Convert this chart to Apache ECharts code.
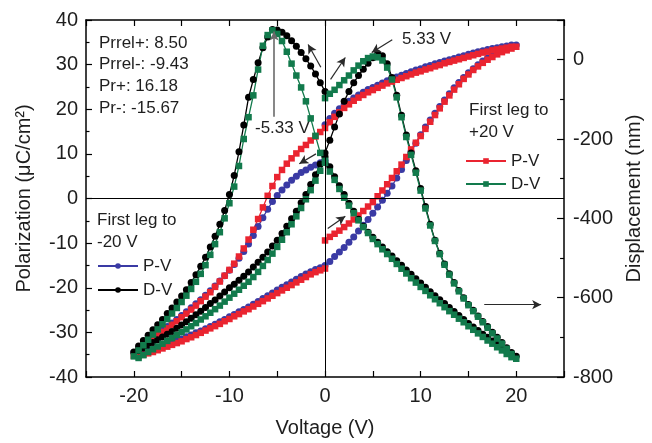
<!DOCTYPE html>
<html>
<head>
<meta charset="utf-8">
<script src="https://cdn.jsdelivr.net/npm/echarts/dist/echarts.min.js"></script>
<style>
  html, body { margin: 0; background: #fff; }
  #chart { width: 652px; height: 443px; }
</style>
</head>
<body>
<div id="chart"></div>
<script>
// voltage sweeps: first leg to +20 V (red, green) and first leg to -20 V (blue, black)
const sweepPos = [
  0,0.5,1,1.5,2,2.5,3,3.5,4,4.5,5,5.5,6,6.5,7,7.5,8,8.5,9,9.5,10,10.5,11,11.5,12,12.5,13,13.5,14,14.5,15,15.5,16,16.5,17,17.5,18,18.5,19,19.5,20,
  19.5,19,18.5,18,17.5,17,16.5,16,15.5,15,14.5,14,13.5,13,12.5,12,11.5,11,10.5,10,9.5,9,8.5,8,7.5,7,6.5,6,5.5,5,4.5,4,3.5,3,2.5,2,1.5,1,0.5,0,
  -0.5,-1,-1.5,-2,-2.5,-3,-3.5,-4,-4.5,-5,-5.5,-6,-6.5,-7,-7.5,-8,-8.5,-9,-9.5,-10,-10.5,-11,-11.5,-12,-12.5,-13,-13.5,-14,-14.5,-15,-15.5,-16,-16.5,-17,-17.5,-18,-18.5,-19,-19.5,-20,
  -19.5,-19,-18.5,-18,-17.5,-17,-16.5,-16,-15.5,-15,-14.5,-14,-13.5,-13,-12.5,-12,-11.5,-11,-10.5,-10,-9.5,-9,-8.5,-8,-7.5,-7,-6.5,-6,-5.5,-5,-4.5,-4,-3.5,-3,-2.5,-2,-1.5,-1,-0.5,0
];
const sweepNeg = [
  0,-0.5,-1,-1.5,-2,-2.5,-3,-3.5,-4,-4.5,-5,-5.5,-6,-6.5,-7,-7.5,-8,-8.5,-9,-9.5,-10,-10.5,-11,-11.5,-12,-12.5,-13,-13.5,-14,-14.5,-15,-15.5,-16,-16.5,-17,-17.5,-18,-18.5,-19,-19.5,-20,
  -19.5,-19,-18.5,-18,-17.5,-17,-16.5,-16,-15.5,-15,-14.5,-14,-13.5,-13,-12.5,-12,-11.5,-11,-10.5,-10,-9.5,-9,-8.5,-8,-7.5,-7,-6.5,-6,-5.5,-5,-4.5,-4,-3.5,-3,-2.5,-2,-1.5,-1,-0.5,0,
  0.5,1,1.5,2,2.5,3,3.5,4,4.5,5,5.5,6,6.5,7,7.5,8,8.5,9,9.5,10,10.5,11,11.5,12,12.5,13,13.5,14,14.5,15,15.5,16,16.5,17,17.5,18,18.5,19,19.5,20,
  19.5,19,18.5,18,17.5,17,16.5,16,15.5,15,14.5,14,13.5,13,12.5,12,11.5,11,10.5,10,9.5,9,8.5,8,7.5,7,6.5,6,5.5,5,4.5,4,3.5,3,2.5,2,1.5,1,0.5,0
];

// polarization (uC/cm2)
const redPV = [
  -9.4,-8.6,-7.9,-7.2,-6.4,-5.6,-4.7,-3.8,-2.8,-1.8,-0.8,0.5,1.8,3.2,4.6,6.1,7.6,9.3,11.0,12.5,14.0,15.6,17.2,18.7,20.2,21.7,23.1,24.4,25.6,26.8,27.8,28.8,29.6,30.4,31.1,31.7,32.3,32.8,33.2,33.6,34.0,
  34.0,33.8,33.6,33.4,33.2,32.9,32.7,32.4,32.1,31.8,31.5,31.2,30.9,30.6,30.3,29.9,29.6,29.2,28.9,28.5,28.2,27.8,27.4,27.0,26.6,26.2,25.8,25.3,24.8,24.3,23.8,23.2,22.6,21.9,21.1,20.3,19.3,18.3,17.1,15.8,
  14.9,13.9,13.0,12.0,11.1,10.1,9.0,7.8,6.4,4.8,2.8,0.6,-2.0,-4.6,-7.0,-9.2,-11.2,-13.0,-14.6,-16.0,-17.3,-18.6,-19.8,-21.0,-22.0,-23.0,-24.0,-24.9,-25.8,-26.6,-27.5,-28.3,-29.1,-29.9,-30.6,-31.4,-32.2,-33.0,-34.0,-35.2,
  -35.3,-35.0,-34.7,-34.4,-34.0,-33.6,-33.2,-32.8,-32.4,-32.0,-31.5,-31.1,-30.6,-30.1,-29.6,-29.1,-28.6,-28.1,-27.5,-27.0,-26.4,-25.9,-25.3,-24.8,-24.2,-23.6,-23.0,-22.4,-21.8,-21.2,-20.6,-20.0,-19.4,-18.8,-18.2,-17.6,-17.0,-16.5,-16.1,-15.7
];
const bluePV = [
  8.5,8.0,7.5,7.0,6.4,5.8,5.0,4.1,3.0,1.9,0.7,-0.7,-2.4,-4.3,-6.3,-8.3,-10.2,-11.9,-13.4,-14.8,-16.1,-17.3,-18.5,-19.6,-20.7,-21.7,-22.7,-23.6,-24.5,-25.4,-26.2,-27.1,-27.9,-28.7,-29.5,-30.3,-31.0,-31.8,-32.6,-33.5,-34.5,
  -34.5,-34.3,-34.0,-33.8,-33.4,-33.1,-32.7,-32.3,-31.9,-31.5,-31.0,-30.6,-30.1,-29.7,-29.2,-28.7,-28.2,-27.6,-27.1,-26.5,-26.0,-25.4,-24.9,-24.3,-23.7,-23.1,-22.4,-21.8,-21.2,-20.5,-19.9,-19.3,-18.7,-18.1,-17.5,-16.9,-16.4,-15.9,-15.5,-15.0,
  -14.1,-13.0,-12.0,-11.0,-9.8,-8.6,-7.3,-6.0,-4.7,-3.3,-1.9,-0.4,1.2,2.8,4.6,6.5,8.5,10.5,12.4,14.3,16.0,17.6,19.1,20.6,22.1,23.5,24.8,26.0,27.1,28.2,29.1,30.0,30.8,31.5,32.1,32.7,33.2,33.6,34.0,34.4,
  34.4,34.2,34.0,33.8,33.6,33.4,33.1,32.9,32.6,32.3,32.0,31.7,31.4,31.1,30.8,30.5,30.2,29.8,29.5,29.1,28.8,28.4,28.0,27.6,27.2,26.8,26.4,25.9,25.4,24.9,24.4,23.8,23.2,22.5,21.8,21.0,20.1,19.1,17.9,16.5
];

// displacement (nm)
const blackDV = [
  -80,-58,-36,-16,2,18,34,48,60,69,75,76,57,30,-8,-50,-95,-165,-232,-292,-340,-380,-415,-445,-472,-498,-521,-542,-562,-580,-596,-611,-626,-640,-655,-668,-681,-695,-708,-722,-737,
  -734,-727,-720,-713,-706,-699,-692,-685,-677,-669,-661,-652,-643,-634,-625,-615,-606,-596,-586,-575,-566,-556,-546,-535,-523,-511,-498,-485,-470,-455,-438,-420,-401,-382,-361,-340,-315,-290,-263,-235,
  -203,-170,-137,-105,-80,-58,-40,-24,-9,5,15,10,-10,-45,-90,-140,-190,-235,-280,-325,-370,-415,-455,-488,-515,-540,-562,-582,-600,-617,-632,-646,-660,-673,-687,-700,-713,-726,-738,-748,
  -743,-735,-727,-718,-709,-700,-692,-683,-674,-665,-655,-645,-635,-625,-615,-605,-595,-585,-574,-563,-552,-541,-530,-518,-507,-495,-484,-472,-460,-448,-435,-420,-402,-382,-362,-340,-318,-295,-270,-245
];
const greenDV = [
  -97,-86,-76,-64,-52,-40,-27,-15,-4,4,8,6,-2,-20,-50,-95,-145,-195,-240,-285,-330,-375,-418,-457,-490,-517,-542,-564,-584,-602,-619,-634,-648,-662,-676,-690,-703,-716,-729,-742,-754,
  -750,-742,-733,-725,-716,-708,-699,-690,-681,-672,-662,-653,-643,-634,-624,-614,-604,-594,-583,-573,-562,-551,-539,-527,-515,-502,-490,-478,-465,-452,-437,-422,-405,-387,-368,-348,-326,-303,-282,-260,
  -235,-192,-148,-105,-70,-40,-10,20,47,65,74,62,35,-25,-90,-145,-200,-268,-320,-362,-400,-435,-465,-492,-518,-540,-560,-578,-595,-611,-626,-640,-654,-667,-680,-693,-706,-720,-733,-748,
  -752,-745,-737,-730,-723,-716,-709,-702,-694,-687,-680,-672,-664,-655,-647,-638,-629,-620,-610,-600,-590,-580,-570,-560,-548,-535,-520,-505,-489,-472,-454,-435,-415,-395,-374,-352,-329,-305,-280,-255
];

const xTicks = [-20, -10, 0, 10, 20];
const legendNames = { blueP: 'P-V', blackD: 'D-V', redP: 'P-V', greenD: 'D-V' };
// direction arrows in (V, P) coordinates: [v1, p1, v2, p2]
const arrows = [
  [-0.44, 29.4, -1.77, 34.5],
  [0.58, 26.7, 2.12, 31.6],
  [-0.95, 10.0, -2.69, 7.8],
  [0.28, -6.7, 2.12, -4.0],
  [16.65, -23.8, 22.6, -23.8],
  [7.03, 35.6, 4.88, 32.7]
];
const peakArrow = [-5.33, 18.3, -5.33, 37.4];

const FF = '"Liberation Sans", Arial, sans-serif';
const TXT = '#1e1e1e';

const zip = (xs, ys) => xs.map((x, i) => [x, ys[i]]);

const chart = echarts.init(document.getElementById('chart'));

const xAxisBase = {
  type: 'value', min: -25, max: 25, interval: 5,
  axisLine: { onZero: false, lineStyle: { color: '#000', width: 1.5 } },
  axisTick: { inside: true, length: 6, lineStyle: { color: '#000', width: 1.2 } },
  splitLine: { show: false }
};

const seriesBase = {
  type: 'line', showAllSymbol: true, animation: false, silent: true,
  lineStyle: { width: 1.3 }
};

const arrowLines = arrows.map(a => [{ coord: [a[0], a[1]] }, { coord: [a[2], a[3]] }]);
arrowLines.push([
  { coord: [peakArrow[0], peakArrow[1]], lineStyle: { color: '#6a6a6a', width: 1.6 } },
  { coord: [peakArrow[2], peakArrow[3]] }
]);

chart.setOption({
  animation: false,
  backgroundColor: '#fff',
  grid: { left: 86, right: 79, top: 20, bottom: 63 },
  xAxis: [
    {
      ...xAxisBase, position: 'bottom',
      axisLabel: {
        fontSize: 20, color: TXT, fontFamily: FF, margin: 9,
        formatter: v => (xTicks.includes(v) ? String(v) : '')
      },
      name: 'Voltage (V)', nameLocation: 'middle', nameGap: 41,
      nameTextStyle: { fontSize: 20, color: TXT, fontFamily: FF }
    },
    { ...xAxisBase, position: 'top', axisLabel: { show: false } }
  ],
  yAxis: [
    {
      type: 'value', min: -40, max: 40, interval: 10, position: 'left',
      axisLine: { onZero: false, lineStyle: { color: '#000', width: 1.5 } },
      axisTick: { inside: true, length: 6, lineStyle: { color: '#000', width: 1.2 } },
      minorTick: { show: true, splitNumber: 2, length: 3.5, lineStyle: { color: '#000', width: 1.2 } },
      axisLabel: { fontSize: 20, color: TXT, fontFamily: FF, margin: 8 },
      splitLine: { show: false },
      name: 'Polarization (μC/cm²)', nameLocation: 'middle', nameRotate: 90, nameGap: 52,
      nameTextStyle: { fontSize: 20, color: TXT, fontFamily: FF }
    },
    {
      type: 'value', min: -800, max: 100, interval: 200, position: 'right',
      axisLine: { onZero: false, lineStyle: { color: '#000', width: 1.5 } },
      axisTick: { inside: true, length: 7, lineStyle: { color: '#000', width: 1.2 } },
      minorTick: { show: true, splitNumber: 2, length: 4, lineStyle: { color: '#000', width: 1.2 } },
      axisLabel: {
        fontSize: 20, color: TXT, fontFamily: FF, margin: 9,
        formatter: v => (v <= 0 ? String(v) : '')
      },
      splitLine: { show: false },
      name: 'Displacement (nm)', nameLocation: 'middle', nameRotate: 90, nameGap: 58,
      nameTextStyle: { fontSize: 20, color: TXT, fontFamily: FF }
    }
  ],
  legend: [
    {
      data: ['blueP', 'blackD'], left: 97, top: 256, orient: 'vertical', padding: 0,
      itemWidth: 40, itemHeight: 7, itemGap: 4, selectedMode: false,
      formatter: n => legendNames[n],
      textStyle: { fontSize: 17, color: TXT, fontFamily: FF, lineHeight: 20 }
    },
    {
      data: ['redP', 'greenD'], left: 465, top: 151, orient: 'vertical', padding: 0,
      itemWidth: 40, itemHeight: 7, itemGap: 3, selectedMode: false,
      formatter: n => legendNames[n],
      textStyle: { fontSize: 17, color: TXT, fontFamily: FF, lineHeight: 20 }
    }
  ],
  graphic: [
    { type: 'text', left: 99, top: 32, style: { text: 'Prrel+: 8.50\nPrrel-: -9.43\nPr+: 16.18\nPr-: -15.67', fontSize: 17, fontFamily: FF, fill: TXT, lineHeight: 21.7 } },
    { type: 'text', left: 255, top: 117, style: { text: '-5.33 V', fontSize: 17, fontFamily: FF, fill: TXT, lineHeight: 22 } },
    { type: 'text', left: 402, top: 28, style: { text: '5.33 V', fontSize: 17, fontFamily: FF, fill: TXT, lineHeight: 22 } },
    { type: 'text', left: 97, top: 209, style: { text: 'First leg to\n-20 V', fontSize: 17, fontFamily: FF, fill: TXT, lineHeight: 22 } },
    { type: 'text', left: 469, top: 99, style: { text: 'First leg to\n+20 V', fontSize: 17, fontFamily: FF, fill: TXT, lineHeight: 22 } }
  ],
  series: [
    {
      ...seriesBase, name: 'blueP', xAxisIndex: 0, yAxisIndex: 0, symbol: 'circle', symbolSize: 7,
      color: '#3a3aa4', data: zip(sweepNeg, bluePV),
      markLine: {
        silent: true, symbol: 'none', animation: false,
        lineStyle: { color: '#000', width: 1, type: 'solid' },
        label: { show: false },
        data: [{ yAxis: 0 }, { xAxis: 0 }]
      }
    },
    {
      ...seriesBase, name: 'redP', xAxisIndex: 0, yAxisIndex: 0, symbol: 'rect', symbolSize: 6.5,
      color: '#ea2430', data: zip(sweepPos, redPV),
      markLine: {
        silent: true, symbol: ['none', 'arrow'], symbolSize: [7, 9], animation: false,
        lineStyle: { color: '#2a2a2a', width: 1.2, type: 'solid' },
        label: { show: false },
        data: arrowLines
      }
    },
    {
      ...seriesBase, name: 'blackD', xAxisIndex: 0, yAxisIndex: 1, symbol: 'circle', symbolSize: 7,
      color: '#000000', data: zip(sweepNeg, blackDV)
    },
    {
      ...seriesBase, name: 'greenD', xAxisIndex: 0, yAxisIndex: 1, symbol: 'rect', symbolSize: 6.5,
      color: '#127a4c', data: zip(sweepPos, greenDV)
    }
  ]
});
</script>
</body>
</html>
